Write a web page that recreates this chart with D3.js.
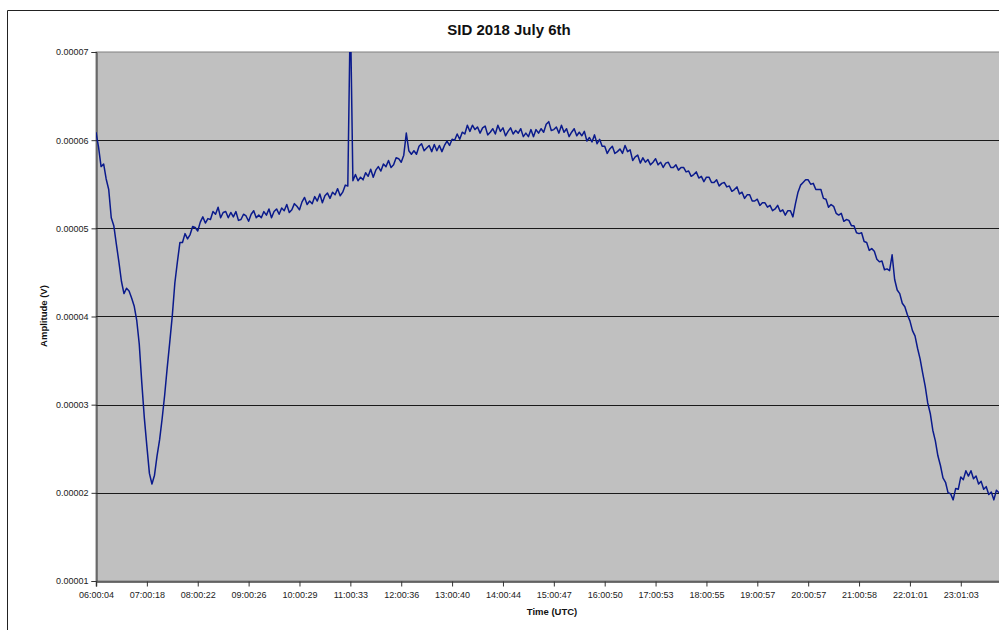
<!DOCTYPE html>
<html><head><meta charset="utf-8">
<script src="https://cdn.jsdelivr.net/npm/d3@7"></script>
<style>
html,body{margin:0;padding:0;background:#fff;}
svg{display:block;font-family:"Liberation Sans",Arial,sans-serif;}
</style></head>
<body>
<svg id="chart" width="999" height="630"></svg>
<script>
// Tick labels of the category (time) axis, one per hour of recording
const timeLabels = ["06:00:04","07:00:18","08:00:22","09:00:26","10:00:29","11:00:33","12:00:36","13:00:40","14:00:44","15:00:47","16:00:50","17:00:53","18:00:55","19:00:57","20:00:57","21:00:58","22:01:01","23:01:03"];
// Y tick values (V)
const yTicks = [0.00001,0.00002,0.00003,0.00004,0.00005,0.00006,0.00007];
// Sample spacing (hours since 06:00:04)
const sampleStep = 0.05;
// Amplitude samples in microvolts
const amplitudeUV = [
60.9,59.2,57.0,57.3,55.6,54.4,51.2,50.3,48.2,46.2,
44.0,42.6,43.2,42.9,42.1,41.2,39.6,36.9,32.5,28.5,
25.3,22.2,21.0,22.0,24.2,26.0,28.4,31.1,34.2,37.1,
40.1,43.8,46.2,48.4,48.4,49.4,48.8,49.3,50.2,50.1,
49.7,50.7,51.3,50.6,51.1,51.0,51.9,51.6,52.4,51.2,
51.8,51.9,51.2,51.8,51.3,51.9,50.9,51.0,51.6,51.4,
50.8,51.6,52.0,51.2,51.5,51.2,51.9,51.5,52.2,51.2,
51.9,52.2,51.6,52.3,52.0,52.7,51.8,52.1,52.8,52.5,
52.1,53.0,53.5,52.7,53.1,52.8,53.6,53.1,53.9,52.9,
53.7,54.0,53.4,54.1,53.8,54.5,53.7,54.1,54.9,54.8,
75.0,55.4,56.1,55.4,55.8,55.5,56.3,55.9,56.7,55.8,
56.6,57.0,56.5,57.3,57.0,57.7,56.9,57.2,58.0,57.9,
57.5,58.3,60.8,58.8,58.4,58.8,58.4,59.3,59.6,58.8,
59.1,59.4,58.7,59.5,58.8,59.4,58.7,59.4,59.9,59.4,
60.1,60.0,60.7,60.1,60.9,60.7,61.7,61.0,61.7,61.2,
61.5,60.8,61.4,61.6,60.6,60.9,61.3,60.7,61.7,61.0,
61.4,60.5,61.0,61.4,60.7,61.1,60.8,61.3,60.4,60.8,
60.4,61.2,60.4,61.2,60.8,61.3,60.9,61.8,62.1,61.1,
61.2,61.5,60.8,61.7,60.9,61.3,60.4,60.9,61.3,60.5,
60.9,60.5,61.0,59.9,60.3,59.8,60.6,59.6,60.1,59.3,
59.3,58.5,59.0,59.3,58.5,58.7,59.0,58.5,59.4,58.7,
58.9,57.7,58.1,58.3,57.4,58.0,57.5,57.8,57.2,57.5,
57.9,57.2,57.5,56.9,57.4,57.5,56.9,56.9,57.2,56.6,
56.9,56.9,56.4,56.5,55.9,56.1,56.4,55.7,55.9,55.3,
55.8,55.8,55.2,55.2,55.5,54.8,55.1,55.2,54.7,54.8,
54.2,54.4,54.7,53.9,54.1,53.4,53.8,53.8,53.1,53.1,
53.3,52.6,52.9,52.9,52.4,52.6,52.0,52.2,52.6,51.9,
52.1,51.5,52.0,52.0,51.3,52.8,54.1,54.9,55.2,55.5,
55.5,55.0,55.1,54.4,54.4,54.4,53.4,53.3,52.4,52.7,
52.5,51.7,51.5,51.7,50.8,51.0,50.9,50.3,50.3,49.5,
49.4,49.5,48.5,48.4,47.5,47.7,47.4,46.5,46.2,46.3,
45.3,45.4,45.2,47.0,44.2,43.0,42.6,41.5,41.1,40.2,
39.5,38.4,37.8,36.4,35.2,33.6,32.1,30.2,29.0,27.1,
25.9,24.2,23.1,21.7,21.2,20.0,19.9,19.2,20.5,20.4,
21.8,21.5,22.5,21.9,22.5,21.6,21.9,21.0,21.3,20.4,
20.7,19.8,20.1,19.2,20.3,20.0
];

const svg = d3.select("#chart");
const L = 96, T = 52, R = 1001, B = 581;

// outer chart frame (cut by the window)
svg.append("line").attr("x1",7.5).attr("x2",7.5).attr("y1",10.5).attr("y2",630).attr("stroke","#222").attr("stroke-width",1);
svg.append("line").attr("x1",7.5).attr("x2",999).attr("y1",10.5).attr("y2",10.5).attr("stroke","#222").attr("stroke-width",1);

const x = d3.scaleLinear().domain([0, (R-L)/50.87]).range([L, R]);
const y = d3.scaleLinear().domain([0.00001, 0.00007]).range([B, T]);

// plot background
svg.append("rect").attr("x",L).attr("y",T).attr("width",R-L).attr("height",B-T).attr("fill","#c0c0c0").attr("stroke","#808080");

// gridlines
svg.append("g").selectAll("line").data(yTicks.slice(1,-1)).join("line")
  .attr("x1",L).attr("x2",R).attr("y1",d=>Math.round(y(d))+0.5).attr("y2",d=>Math.round(y(d))+0.5)
  .attr("stroke","#1a1a1a").attr("stroke-width",1);

// y axis
const yAxis = d3.axisLeft(y).tickValues(yTicks).tickSize(5).tickPadding(3).tickFormat(d3.format(".5f"));
const gy = svg.append("g").attr("transform",`translate(${L+0.5},0)`).call(yAxis);
gy.select(".domain").attr("stroke","#333");
gy.selectAll(".tick line").attr("stroke","#333");
gy.selectAll(".tick text").attr("font-size",9).attr("fill","#222").attr("font-family","Liberation Sans, Arial, sans-serif");

// x axis
const xAxis = d3.axisBottom(x).tickValues(d3.range(timeLabels.length)).tickSize(5).tickPadding(5).tickFormat(i=>timeLabels[i]);
const gx = svg.append("g").attr("transform",`translate(0,${B+0.5})`).call(xAxis);
gx.select(".domain").attr("stroke","#444").attr("stroke-width",1.5);
gx.selectAll(".tick line").attr("stroke","#333");
gx.selectAll(".tick text").attr("font-size",9).attr("fill","#222").attr("font-family","Liberation Sans, Arial, sans-serif");

// data line
svg.append("clipPath").attr("id","clip").append("rect").attr("x",L).attr("y",T).attr("width",R-L).attr("height",B-T);
const line = d3.line().x((d,i)=>x(i*sampleStep)).y(d=>y(d/1e6));
svg.append("path").datum(amplitudeUV).attr("d",line).attr("fill","none")
  .attr("stroke","#0a1a8c").attr("stroke-width",1.5).attr("stroke-linejoin","round").attr("clip-path","url(#clip)");

// titles
svg.append("text").attr("x",509).attr("y",35).attr("text-anchor","middle").attr("font-size",15).attr("font-weight","bold").attr("fill","#111").text("SID 2018 July 6th");
svg.append("text").attr("x",552).attr("y",615).attr("text-anchor","middle").attr("font-size",9.5).attr("font-weight","bold").attr("fill","#111").text("Time (UTC)");
svg.append("text").attr("transform","translate(47,316) rotate(-90)").attr("text-anchor","middle").attr("font-size",9.5).attr("font-weight","bold").attr("fill","#111").text("Amplitude (V)");
</script>
</body></html>
